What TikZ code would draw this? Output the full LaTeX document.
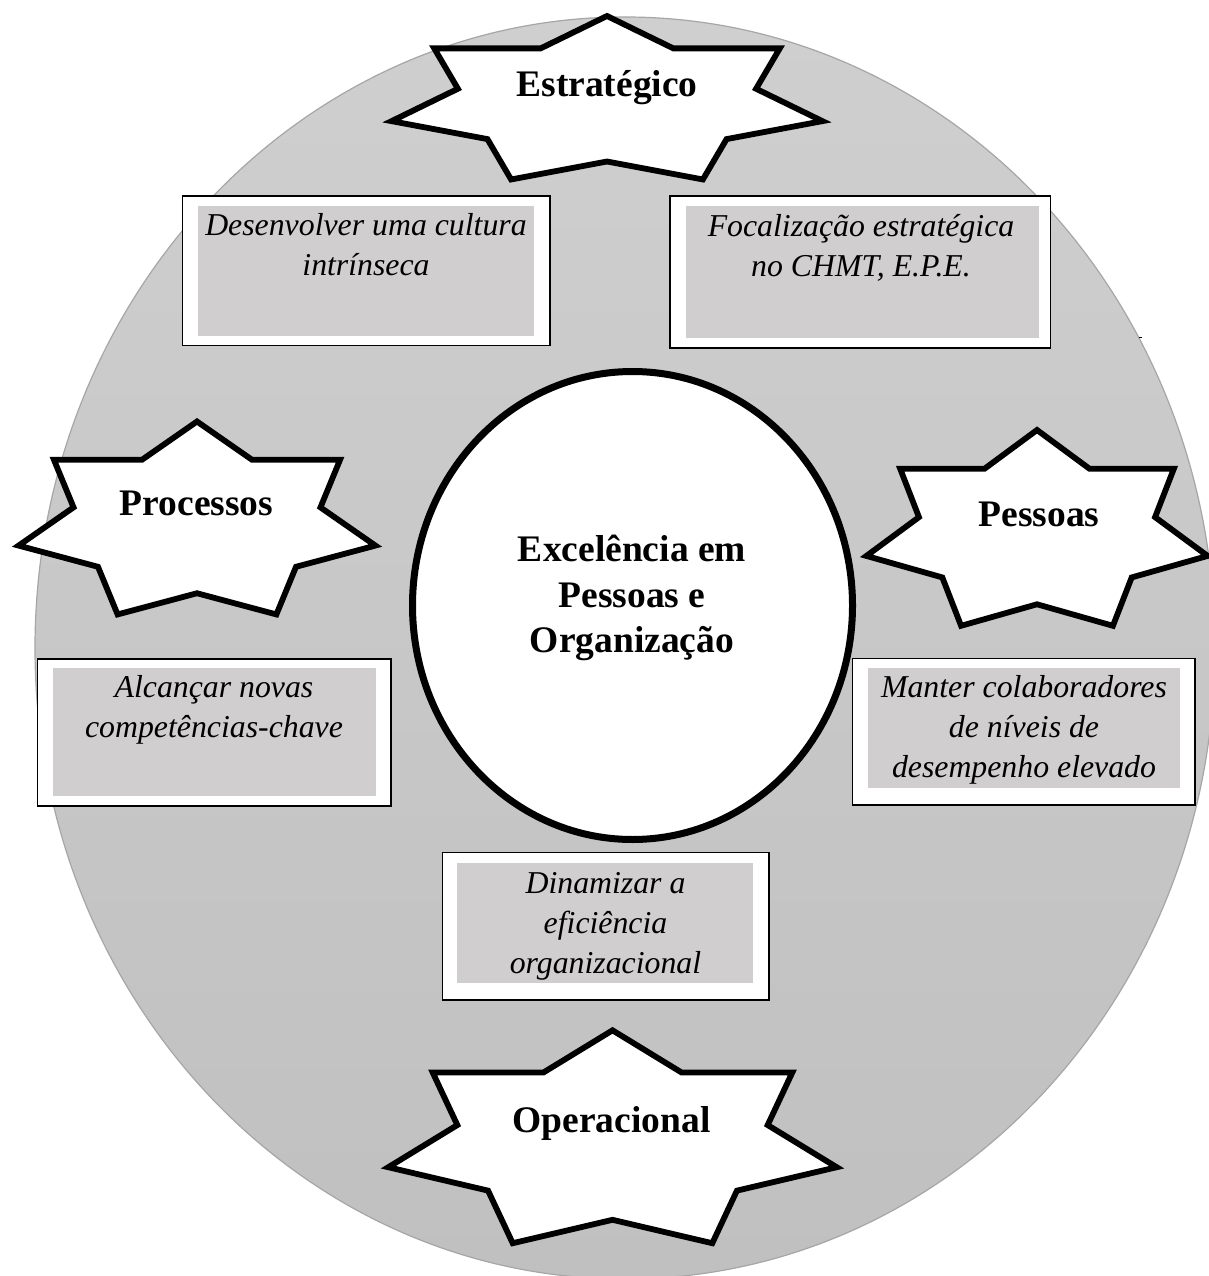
\documentclass[tikz,border=0pt]{standalone}
\usepackage{fontspec}
\setmainfont{Liberation Serif}
\usetikzlibrary{shapes.geometric}

\definecolor{boxgray}{HTML}{D0CECE}
\definecolor{rimgray}{HTML}{A6A6A6}
\definecolor{discTop}{RGB}{207,207,207}
\definecolor{discBottom}{RGB}{192,192,192}

% centred stack of lines whose baseline is the first line's baseline
\newcommand\linestack[1]{\begin{tabular}[t]{@{}c@{}}#1\end{tabular}}

% seven-pointed star: centre (#1,#2), radii #3 (x) and #4 (y)
\newcommand\heptastar[4]{%
  \filldraw[starline] ({#1},{#2-#4})
    \foreach \k in {1,...,6}{
      -- ({#1+0.692*#3*cos(90-(\k-0.5)*360/7)},{#2-0.692*#4*sin(90-(\k-0.5)*360/7)})
      -- ({#1+#3*cos(90-\k*360/7)},{#2-#4*sin(90-\k*360/7)})
    }
    -- ({#1+0.692*#3*cos(90-6.5*360/7)},{#2-0.692*#4*sin(90-6.5*360/7)}) -- cycle;}

\tikzset{
  starline/.style={fill=white, draw=black, line width=5.8pt, line join=miter, miter limit=12},
  startext/.style={font=\fontsize{37.5}{45.5}\selectfont\bfseries, inner sep=0pt, anchor=base},
  boxframe/.style={draw=black, fill=white, line width=1.5pt, inner sep=0pt, rectangle},
  boxfill/.style={fill=boxgray},
  boxtext/.style={font=\fontsize{31.8}{40}\selectfont\itshape, inner sep=0pt, anchor=base},
  hub/.style={ellipse, draw=black, fill=white, line width=7pt, inner sep=0pt}
}

\begin{document}
\begin{tikzpicture}[x=1pt,y=-1pt]
\useasboundingbox (0,0) rectangle (1209,1276);

% background disc
\shade[top color=discTop, bottom color=discBottom, draw=rimgray, line width=1.2pt]
  (625,648) ellipse [x radius=590pt, y radius=631pt];

% small stray mark on the right rim
\draw[line width=1pt] (1138.5,337) -- (1141.5,337);

% central ellipse
\node[hub, minimum width=440pt, minimum height=468pt] (hub) at (632.5,605.5) {};
\node[startext] (hubtext) at (632,561.5)
  {\linestack{Excelência em\\Pessoas e\\Organização}};

% the four stars
\heptastar{607}{102}{221}{86}
\node[startext] (strategic) at (607,96.7) {Estratégico};

\heptastar{197}{523}{183}{101.5}
\node[startext] (processes) at (196.6,515) {Processos};

\heptastar{1037}{533}{175}{103}
\node[startext] (people) at (1039,526.7) {Pessoas};

\heptastar{612.5}{1142.3}{230}{112}
\node[startext] (operational) at (611.6,1132) {Operacional};

% framed goal boxes
\node[boxframe, minimum width=367.3pt, minimum height=149.7pt] (goalA) at (366.35,270.85) {};
\fill[boxfill] (198.3,205.7) rectangle (534.3,336);
\node[boxtext] (goalAtext) at (366,235.5) {\linestack{Desenvolver uma cultura\\intrínseca}};

\node[boxframe, minimum width=380.7pt, minimum height=152pt] (goalB) at (860.35,272) {};
\fill[boxfill] (685.7,206) rectangle (1039,338.3);
\node[boxtext] (goalBtext) at (861,236) {\linestack{Focalização estratégica\\no CHMT, E.P.E.}};

\node[boxframe, minimum width=353.7pt, minimum height=147pt] (goalC) at (214.15,732.5) {};
\fill[boxfill] (53.3,668.3) rectangle (375.7,796);
\node[boxtext] (goalCtext) at (214,697.5) {\linestack{Alcançar novas\\competências-chave}};

\node[boxframe, minimum width=342.7pt, minimum height=146.7pt] (goalD) at (1023.65,731.65) {};
\fill[boxfill] (867.7,668.3) rectangle (1180,787.7);
\node[boxtext] (goalDtext) at (1024,697.5) {\linestack{Manter colaboradores\\de níveis de\\desempenho elevado}};

\node[boxframe, minimum width=326.7pt, minimum height=147.3pt] (goalE) at (605.65,926.35) {};
\fill[boxfill] (457.3,862.7) rectangle (753.3,982.7);
\node[boxtext] (goalEtext) at (605.5,893) {\linestack{Dinamizar a\\eficiência\\organizacional}};

\end{tikzpicture}
\end{document}
